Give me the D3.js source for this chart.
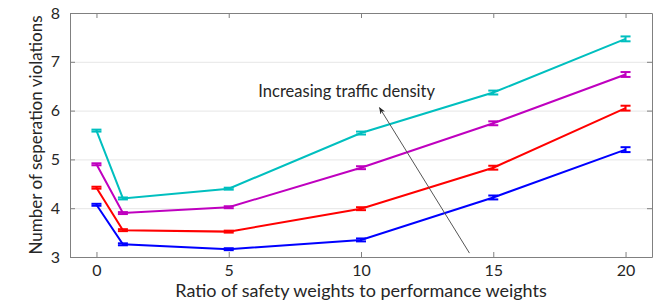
<!doctype html>
<html lang="en">

<head>
  <meta charset="UTF-8">
  <title>Separation violations vs weight ratio</title>
  <script type="text/javascript" src="https://cdn.jsdelivr.net/npm/d3@7"></script>
  <style>
    body {
      margin: 0;
      background: #fff;
    }

    text {
      font-family: Lato, "Open Sans", sans-serif;
      fill: #262626;
    }

    .grid line {
      stroke: #e6e6e6;
    }
  </style>
</head>

<body>
</body>
<script type="text/javascript">
  var ratios = [0, 1, 5, 10, 15, 20];
  var xTicks = [0, 5, 10, 15, 20];
  var yTicks = [3, 4, 5, 6, 7, 8];

  // one series per traffic density, low to high
  var lowest = [4.07, 3.26, 3.16, 3.35, 4.22, 5.20];
  var low = [4.42, 3.55, 3.52, 3.99, 4.83, 6.05];
  var high = [4.90, 3.90, 4.02, 4.83, 5.74, 6.74];
  var highest = [5.59, 4.20, 4.40, 5.54, 6.37, 7.47];
  var errors = [0.02, 0.02, 0.02, 0.03, 0.04, 0.05];

  var seriesColors = ["#0000ff", "#ff0000", "#bf00bf", "#00bfbf"];
  var allSeries = [lowest, low, high, highest];

  var width = 658,
    height = 305;
  var margin = {
    top: 13,
    right: 6,
    bottom: 48,
    left: 70
  };

  var xScale = d3.scaleLinear()
    .domain([-1, 21])
    .range([margin.left, width - margin.right]);

  var yScale = d3.scaleLinear()
    .domain([3, 8])
    .range([height - margin.bottom, margin.top]);

  var svg = d3.select("body").append("svg")
    .attr("width", width)
    .attr("height", height);

  // horizontal grid
  svg.append("g")
    .attr("class", "grid")
    .attr("transform", "translate(" + margin.left + ",0)")
    .call(d3.axisLeft(yScale).tickValues(yTicks.slice(1, -1))
      .tickSize(-(width - margin.left - margin.right)).tickFormat(""))
    .call(function(g) {
      g.select(".domain").remove();
    });

  function styleAxis(g) {
    g.select(".domain").attr("stroke", "#808080");
    g.selectAll(".tick line").attr("stroke", "#808080");
    g.selectAll(".tick text")
      .attr("font-size", "16px")
      .attr("fill", "#262626")
      .attr("font-family", "Lato, sans-serif");
  }

  var x0 = xScale.range()[0],
    x1 = xScale.range()[1],
    y0 = yScale.range()[0],
    y1 = yScale.range()[1];

  svg.append("g")
    .attr("transform", "translate(0," + y0 + ")")
    .call(d3.axisBottom(xScale).tickValues(xTicks).tickSizeInner(-5).tickSizeOuter(0)
      .tickPadding(8).tickFormat(d3.format("d")))
    .call(styleAxis);

  svg.append("g")
    .attr("transform", "translate(0," + y1 + ")")
    .call(d3.axisTop(xScale).tickValues(xTicks).tickSizeInner(-5).tickSizeOuter(0).tickFormat(""))
    .call(styleAxis);

  svg.append("g")
    .attr("transform", "translate(" + x0 + ",0)")
    .call(d3.axisLeft(yScale).tickValues(yTicks).tickSizeInner(-5).tickSizeOuter(0)
      .tickPadding(10).tickFormat(d3.format("d")))
    .call(styleAxis);

  svg.append("g")
    .attr("transform", "translate(" + x1 + ",0)")
    .call(d3.axisRight(yScale).tickValues(yTicks).tickSizeInner(-5).tickSizeOuter(0).tickFormat(""))
    .call(styleAxis);

  var line = d3.line()
    .x(function(d, i) {
      return xScale(ratios[i]);
    })
    .y(function(d) {
      return yScale(d);
    });

  var capHalf = 5;

  allSeries.forEach(function(values, s) {
    var color = seriesColors[s];
    var g = svg.append("g");

    g.append("path")
      .datum(values)
      .attr("d", line)
      .attr("fill", "none")
      .attr("stroke", color)
      .attr("stroke-width", 2);

    var bars = g.selectAll(".err")
      .data(values)
      .enter().append("g")
      .attr("stroke", color)
      .attr("stroke-width", 2);

    bars.append("line")
      .attr("x1", function(d, i) { return xScale(ratios[i]); })
      .attr("x2", function(d, i) { return xScale(ratios[i]); })
      .attr("y1", function(d, i) { return yScale(d - errors[i]); })
      .attr("y2", function(d, i) { return yScale(d + errors[i]); });

    bars.append("line")
      .attr("x1", function(d, i) { return xScale(ratios[i]) - capHalf; })
      .attr("x2", function(d, i) { return xScale(ratios[i]) + capHalf; })
      .attr("y1", function(d, i) { return yScale(d - errors[i]); })
      .attr("y2", function(d, i) { return yScale(d - errors[i]); });

    bars.append("line")
      .attr("x1", function(d, i) { return xScale(ratios[i]) - capHalf; })
      .attr("x2", function(d, i) { return xScale(ratios[i]) + capHalf; })
      .attr("y1", function(d, i) { return yScale(d + errors[i]); })
      .attr("y2", function(d, i) { return yScale(d + errors[i]); });
  });

  // annotation arrow
  svg.append("defs").append("marker")
    .attr("id", "head")
    .attr("viewBox", "0 0 10 10")
    .attr("refX", 9)
    .attr("refY", 5)
    .attr("markerWidth", 7)
    .attr("markerHeight", 7)
    .attr("orient", "auto")
    .append("path")
    .attr("d", "M0,1 L10,5 L0,9 L3,5 Z")
    .attr("fill", "#262626");

  svg.append("line")
    .attr("x1", xScale(14.1))
    .attr("y1", yScale(3.08))
    .attr("x2", xScale(10.7))
    .attr("y2", yScale(6.06))
    .attr("stroke", "#555")
    .attr("stroke-width", 1)
    .attr("marker-end", "url(#head)");

  svg.append("text")
    .attr("x", xScale(6.12))
    .attr("y", yScale(6.28))
    .attr("font-size", "16.5px")
    .text("Increasing traffic density");

  svg.append("text")
    .attr("x", (x0 + x1) / 2)
    .attr("y", 297)
    .attr("text-anchor", "middle")
    .attr("font-size", "18px")
    .text("Ratio of safety weights to performance weights");

  svg.append("text")
    .attr("transform", "translate(42," + (y0 + y1) / 2 + ") rotate(-90)")
    .attr("text-anchor", "middle")
    .attr("font-size", "17px")
    .text("Number of seperation violations");
</script>

</html>
